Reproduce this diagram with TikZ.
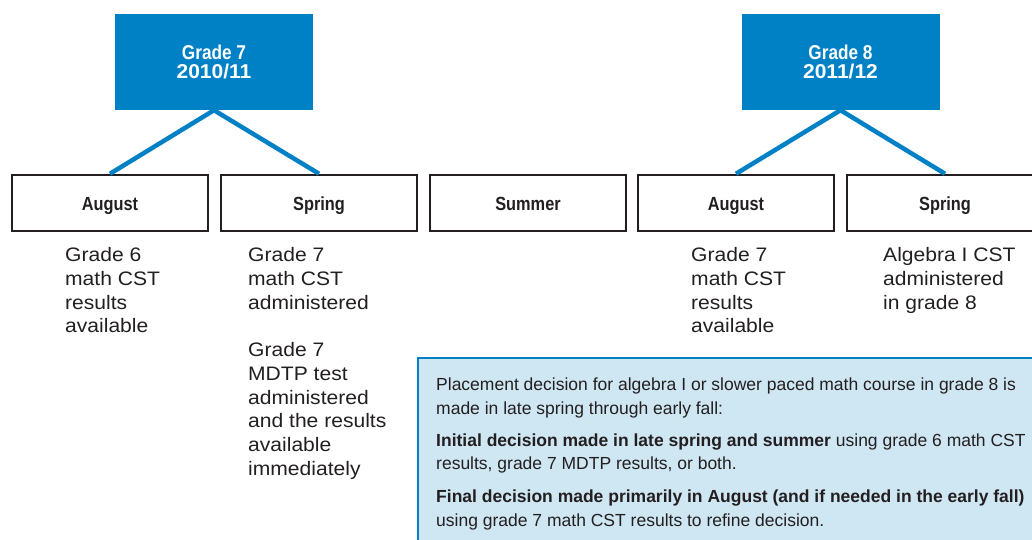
\documentclass[tikz,border=0pt]{standalone}
\usepackage{fontspec}
\setmainfont{Liberation Sans}
\newfontfamily\condfont[FakeStretch=0.86]{Liberation Sans}
\newfontfamily\yearfont[FakeStretch=1.05]{Liberation Sans}
\newfontfamily\colfont[FakeStretch=1.08]{Liberation Sans}
\definecolor{cblue}{HTML}{0081C6}
\definecolor{lblue}{HTML}{CFE6F3}
\definecolor{dgray}{HTML}{231F20}
\begin{document}
\begin{tikzpicture}[x=1pt,y=-1pt,
  monthbox/.style={draw=dgray, line width=2.5pt, minimum width=196pt, minimum height=56pt,
    inner sep=0pt, text height=14pt, text depth=0pt, text=dgray,
    font=\condfont\bfseries\fontsize{19}{22}\selectfont},
  gradebox/.style={fill=cblue, minimum width=198pt, minimum height=96pt, inner sep=0pt,
    text=white, align=center, font=\condfont\bfseries\fontsize{20}{19}\selectfont},
  link/.style={draw=cblue, line width=4.5pt},
  coltext/.style={anchor=base west, align=left, inner sep=0pt, text=dgray,
    font=\colfont\fontsize{19.5}{23.8}\selectfont},
  infotext/.style={anchor=base west, align=left, inner sep=0pt, text=dgray,
    font=\fontsize{17.5}{23.3}\selectfont},
]
\useasboundingbox (0,0) rectangle (1032,539);
\clip (0,0) rectangle (1032,539);

% grade boxes
\node[gradebox] (g7) at (214,62) {Grade 7\\{\yearfont\bfseries 2010/11}};
\node[gradebox] (g8) at (840.5,62) {Grade 8\\{\yearfont\bfseries 2011/12}};

% month boxes
\node[monthbox] (aug1) at (110,203) {August};
\node[monthbox] (spr1) at (319,203) {Spring};
\node[monthbox] (sum)  at (528,203) {Summer};
\node[monthbox] (aug2) at (736,203) {August};
\node[monthbox] (spr2) at (945,203) {Spring};

% connectors
\draw[link] (g7.south) -- (aug1.north);
\draw[link] (g7.south) -- (spr1.north);
\draw[link] (g8.south) -- (aug2.north);
\draw[link] (g8.south) -- (spr2.north);

% column texts (anchored at the baseline of the last line)
\node[coltext] (t1) at (65,332.9) {Grade 6\\math CST\\results\\available};
\node[coltext] (t2) at (248,309.1) {Grade 7\\math CST\\administered};
\node[coltext] (t3) at (248,475.5) {Grade 7\\MDTP test\\administered\\and the results\\available\\immediately};
\node[coltext] (t4) at (691,332.9) {Grade 7\\math CST\\results\\available};
\node[coltext] (t5) at (883,309.1) {Algebra I CST\\administered\\in grade 8};

% info box
\draw[fill=lblue, draw=cblue, line width=2pt] (418,358) rectangle (1045,550);
\node[infotext] (i1) at (436,414) {Placement decision for algebra I or slower paced math course in grade 8 is\\made in late spring through early fall:};
\node[infotext] (i2) at (436,469.5) {\textbf{Initial decision made in late spring and summer} using grade 6 math CST\\results, grade 7 MDTP results, or both.};
\node[infotext] (i3) at (436,526) {\textbf{Final decision made primarily in August (and if needed in the early fall)}\\using grade 7 math CST results to refine decision.};
\end{tikzpicture}
\end{document}
